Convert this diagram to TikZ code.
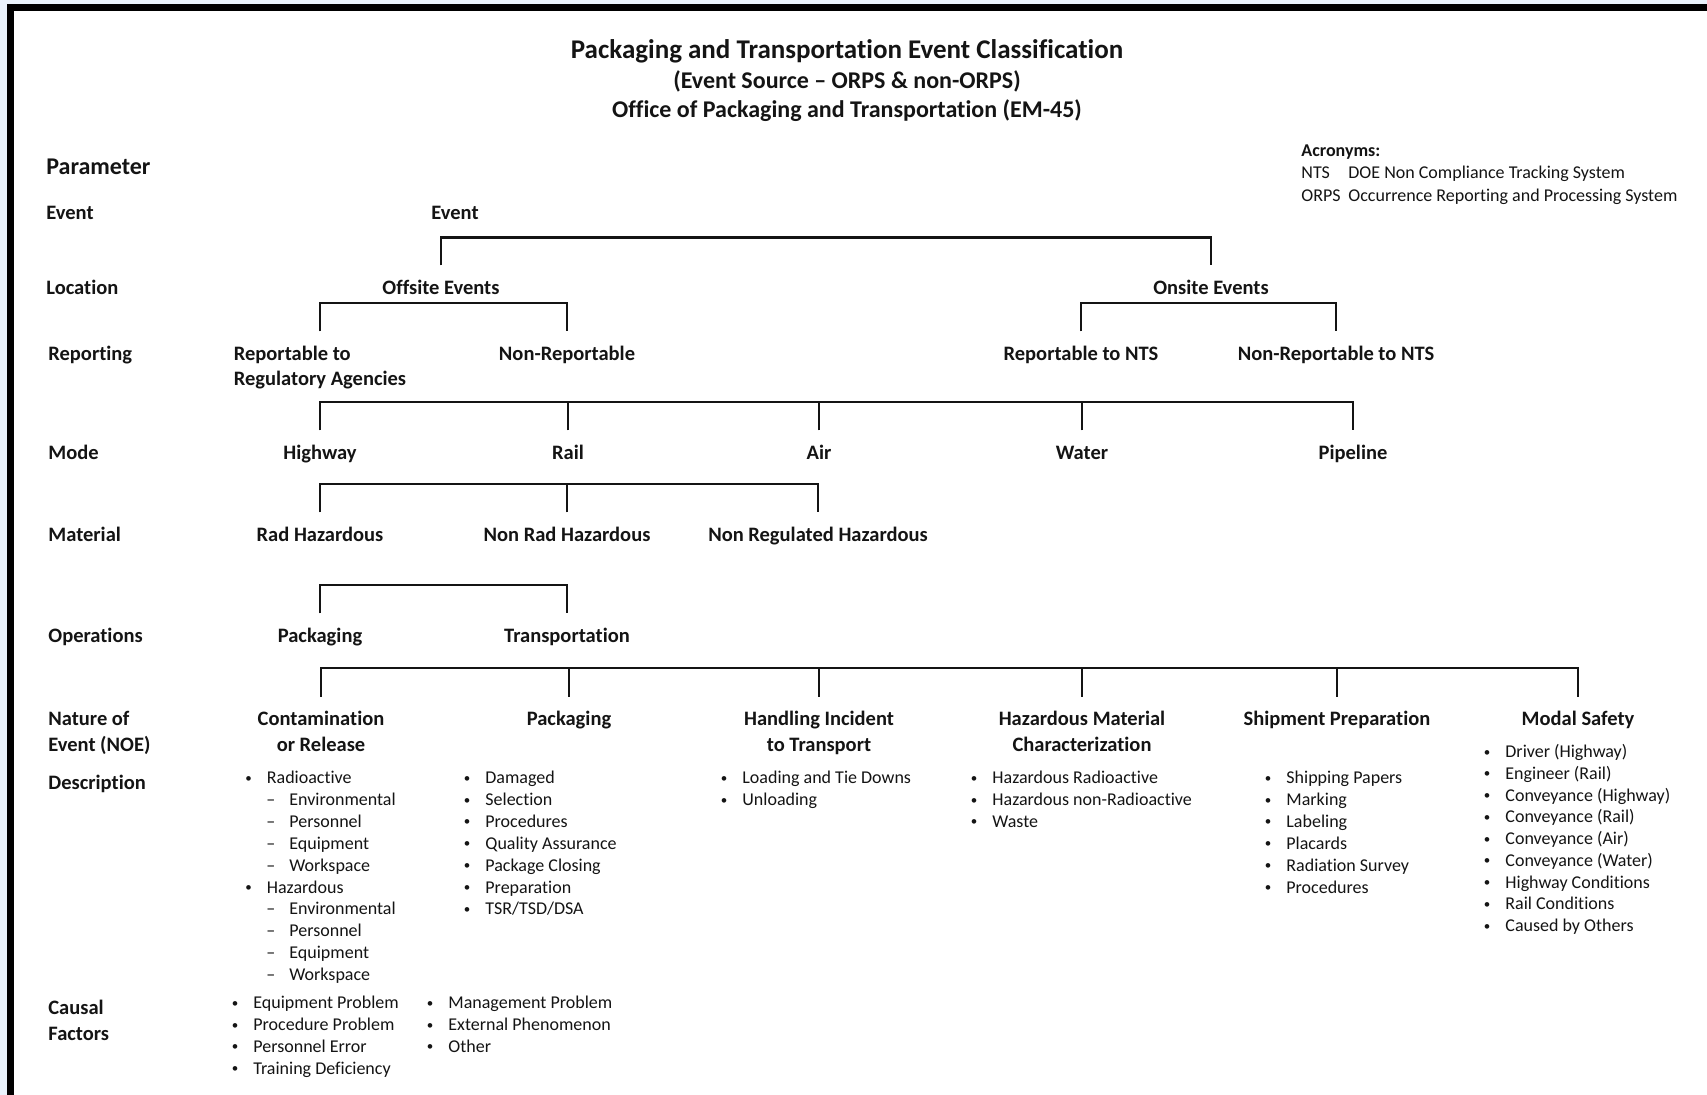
\documentclass[tikz,border=0pt]{standalone}
\usepackage{fontspec}
\setmainfont{Carlito}[Ligatures=NoCommon]
\definecolor{pagebg}{RGB}{234,243,252}
\definecolor{ink}{RGB}{20,20,20}
\newcommand{\blt}{\llap{\raisebox{0.7pt}{\fontsize{6.5}{7}\selectfont\textbullet}\hspace{7.5pt}}}
\newcommand{\dsh}{\llap{--\hspace{7pt}}}
\begin{document}
\begin{tikzpicture}[x=0.5pt,y=-0.5pt,
	lbl/.style={font=\bfseries\fontsize{10.25}{12.75}\selectfont,text=ink,inner sep=0pt,anchor=base},
	param/.style={lbl,anchor=base west,align=left},
	item/.style={font=\fontsize{9}{11}\selectfont,text=ink,inner sep=0pt,anchor=base west},
	acro/.style={font=\fontsize{9}{10}\selectfont,text=ink,inner sep=0pt,anchor=base west},
	brk/.style={draw=ink,line width=1pt}]
	\useasboundingbox (0,0) rectangle (1707,1095);
	\fill[pagebg] (0,0) rectangle (1707,1095);
	\fill[white] (7,4) rectangle (1707,1095);
	\fill[black] (7,4) rectangle (1707,11);
	\fill[black] (7,4) rectangle (13.5,1095);

	\node[lbl,font=\bfseries\fontsize{13.5}{16}\selectfont] (title) at (847,59) {Packaging and Transportation Event Classification};
	\node[lbl,font=\bfseries\fontsize{12}{14}\selectfont] (source) at (847,89) {(Event Source -- ORPS \& non-ORPS)};
	\node[lbl,font=\bfseries\fontsize{12}{14}\selectfont] (office) at (847,118) {Office of Packaging and Transportation (EM-45)};

	\node[acro,font=\bfseries\fontsize{9}{10}\selectfont] (acr) at (1301,157) {Acronyms:};
	\node[acro] (nts-a) at (1301,179) {NTS};
	\node[acro] (nts-b) at (1348,179) {DOE Non Compliance Tracking System};
	\node[acro] (orps-a) at (1301,202) {ORPS};
	\node[acro] (orps-b) at (1348,202) {Occurrence Reporting and Processing System};

	\node[param,font=\bfseries\fontsize{12}{14}\selectfont] (p-par) at (46,175) {Parameter};
	\node[param] (p-event) at (46,219.5) {Event};
	\node[param] (p-loc) at (46,294.5) {Location};
	\node[param] (p-rep) at (48,360.5) {Reporting};
	\node[param] (p-mode) at (48,459.5) {Mode};
	\node[param] (p-mat) at (48,541.5) {Material};
	\node[param] (p-ops) at (48,642.5) {Operations};
	\node[param] (p-noe) at (48,751) {Nature of\\Event (NOE)};
	\node[param] (p-desc) at (48,789.5) {Description};
	\node[param] (p-cf) at (48,1040) {Causal\\Factors};

	\node[lbl] (event) at (455,219.5) {Event};
	\node[lbl] (offsite) at (441,294.5) {Offsite Events};
	\node[lbl] (onsite) at (1211,294.5) {Onsite Events};
	\node[lbl,align=left] (regag) at (320,386) {Reportable to\\Regulatory Agencies};
	\node[lbl] (nonrep) at (567,360.5) {Non-Reportable};
	\node[lbl] (nts) at (1081,360.5) {Reportable to NTS};
	\node[lbl] (nonnts) at (1336,360.5) {Non-Reportable to NTS};
	\node[lbl] (highway) at (320,459.5) {Highway};
	\node[lbl] (rail) at (568,459.5) {Rail};
	\node[lbl] (air) at (819,459.5) {Air};
	\node[lbl] (water) at (1082,459.5) {Water};
	\node[lbl] (pipeline) at (1353,459.5) {Pipeline};
	\node[lbl] (radhaz) at (320,541.5) {Rad Hazardous};
	\node[lbl] (nonrad) at (567,541.5) {Non Rad Hazardous};
	\node[lbl] (nonreg) at (818,541.5) {Non Regulated Hazardous};
	\node[lbl] (pack) at (320,642.5) {Packaging};
	\node[lbl] (transp) at (567,642.5) {Transportation};
	\node[lbl,align=center] (noe1) at (321,751) {Contamination\\or Release};
	\node[lbl] (noe2) at (569,725.5) {Packaging};
	\node[lbl,align=center] (noe3) at (819,751) {Handling Incident\\to Transport};
	\node[lbl,align=center] (noe4) at (1082,751) {Hazardous Material\\Characterization};
	\node[lbl] (noe5) at (1337,725.5) {Shipment Preparation};
	\node[lbl] (noe6) at (1578,725.5) {Modal Safety};

	\draw[brk,line width=1.3pt] ([yshift=14.5pt]offsite.base) -- ++(0,-28) -| ([yshift=14.5pt]onsite.base);
	\draw[brk] (regag.base |- nonrep.base) ++(0,-29) -- ++(0,-28) -| ([yshift=14.5pt]nonrep.base);
	\draw[brk] ([yshift=14.5pt]nts.base) -- ++(0,-28) -| ([yshift=14.5pt]nonnts.base);
	\draw[brk] ([yshift=14.5pt]highway.base) -- ++(0,-28) -| ([yshift=14.5pt]pipeline.base);
	\foreach \n in {rail,air,water}
		\draw[brk] ([yshift=14.5pt]\n.base) -- ++(0,-28);
	\draw[brk] ([yshift=14.5pt]radhaz.base) -- ++(0,-28) -| ([yshift=14.5pt]nonreg.base);
	\draw[brk] ([yshift=14.5pt]nonrad.base) -- ++(0,-28);
	\draw[brk] ([yshift=14.5pt]pack.base) -- ++(0,-28) -| ([yshift=14.5pt]transp.base);
	\draw[brk] (noe1.base |- noe2.base) ++(0,-29) -- ++(0,-28) -| ([yshift=14.5pt]noe6.base);
	\foreach \n in {noe2,noe5}
		\draw[brk] ([yshift=14.5pt]\n.base) -- ++(0,-28);
	\foreach \n in {noe3,noe4}
		\draw[brk] (\n.base |- noe2.base) ++(0,-29) -- ++(0,-28);

	\node[item] (rad) at (266.5,783.5) {\blt Radioactive};
	\node[item] (haz) at (266.5,{783.5+21.9*5}) {\blt Hazardous};
	\foreach \t [count=\i] in {Environmental,Personnel,Equipment,Workspace}{
		\node[item] (rad-\i) at (289,{783.5+21.9*\i}) {\dsh\t};
		\node[item] (haz-\i) at (289,{783.5+21.9*(\i+5)}) {\dsh\t};
	}
	\foreach \t [count=\i from 0] in {Damaged,Selection,Procedures,Quality Assurance,Package Closing,Preparation,TSR/TSD/DSA}
		\node[item] (pk-\i) at (485,{783.5+21.9*\i}) {\blt\t};
	\foreach \t [count=\i from 0] in {Loading and Tie Downs,Unloading}
		\node[item] (hd-\i) at (742,{783.5+21.9*\i}) {\blt\t};
	\foreach \t [count=\i from 0] in {Hazardous Radioactive,Hazardous non-Radioactive,Waste}
		\node[item] (hm-\i) at (992,{783.5+21.9*\i}) {\blt\t};
	\foreach \t [count=\i from 0] in {Shipping Papers,Marking,Labeling,Placards,Radiation Survey,Procedures}
		\node[item] (sp-\i) at (1286,{783.5+21.9*\i}) {\blt\t};
	\foreach \t [count=\i from 0] in {Driver (Highway),Engineer (Rail),Conveyance (Highway),Conveyance (Rail),Conveyance (Air),Conveyance (Water),Highway Conditions,Rail Conditions,Caused by Others}
		\node[item] (ms-\i) at (1505,{757.5+21.75*\i}) {\blt\t};
	\foreach \t [count=\i from 0] in {Equipment Problem,Procedure Problem,Personnel Error,Training Deficiency}
		\node[item] (cf-\i) at (253,{1008.5+21.9*\i}) {\blt\t};
	\foreach \t [count=\i from 0] in {Management Problem,External Phenomenon,Other}
		\node[item] (cg-\i) at (448,{1008.5+21.9*\i}) {\blt\t};
\end{tikzpicture}
\end{document}
